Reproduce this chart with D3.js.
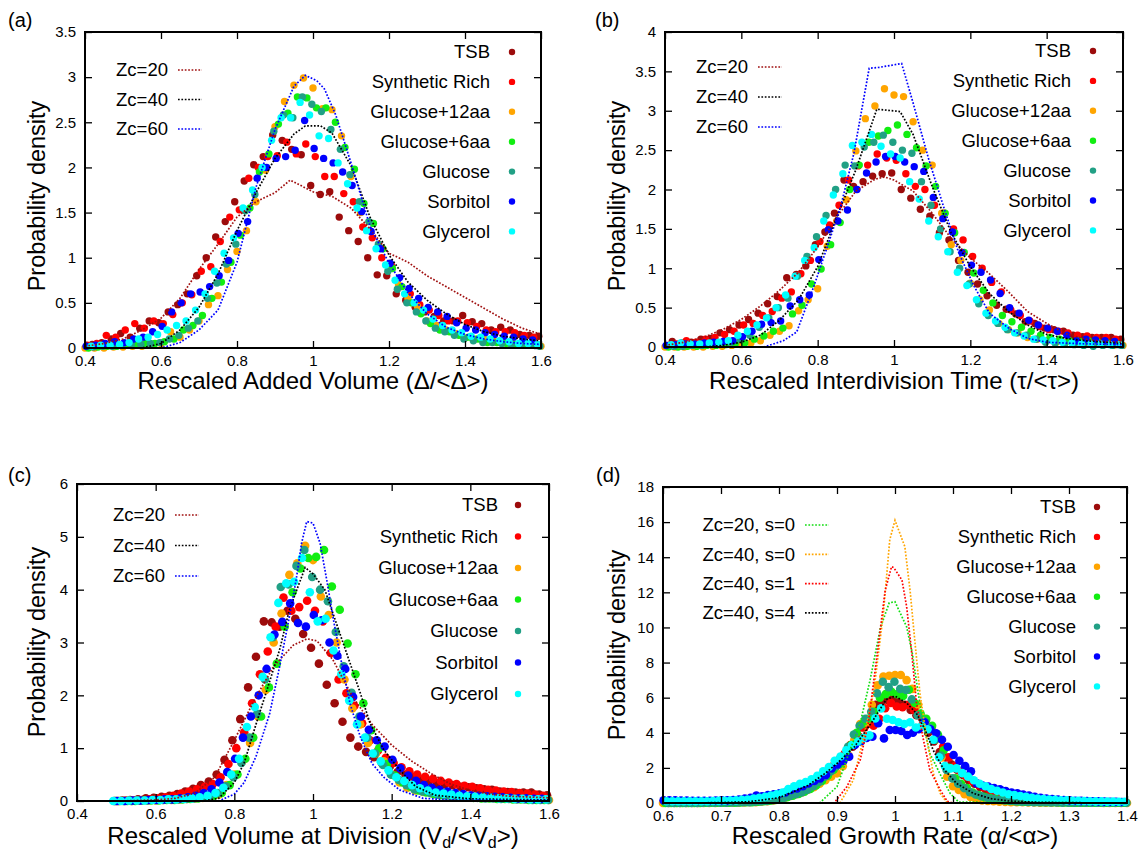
<!DOCTYPE html>
<html>
<head>
<meta charset="utf-8">
<script src="https://cdn.jsdelivr.net/npm/d3@7"></script>
<style>
  body { margin: 0; background: #fff; }
  svg { display: block; }
  text { font-family: "Liberation Sans", Arial, Helvetica, sans-serif; fill: #000; }
</style>
</head>
<body>
<svg id="fig" width="1144" height="857"></svg>
<script>
// ---- growth-condition series (shared by all four panels) ----
const seriesNames = ["TSB", "Synthetic Rich", "Glucose+12aa", "Glucose+6aa", "Glucose", "Sorbitol", "Glycerol"];
const seriesColors = ["#9c0b0b", "#ff0000", "#ffa500", "#11ee11", "#21a085", "#0000ff", "#00ffff"];

// ---- histogram bin centres ----
const binsAB = [0.4,0.425,0.45,0.475,0.5,0.525,0.55,0.575,0.6,0.625,0.65,0.675,0.7,0.725,0.75,0.775,0.8,0.825,0.85,0.875,0.9,0.925,0.95,0.975,1,1.025,1.05,1.075,1.1,1.125,1.15,1.175,1.2,1.225,1.25,1.275,1.3,1.325,1.35,1.375,1.4,1.425,1.45,1.475,1.5,1.525,1.55,1.575,1.6];
const binsC = [0.5,0.52,0.54,0.56,0.58,0.6,0.62,0.64,0.66,0.68,0.7,0.72,0.74,0.76,0.78,0.8,0.82,0.84,0.86,0.88,0.9,0.92,0.94,0.96,0.98,1,1.02,1.04,1.06,1.08,1.1,1.12,1.14,1.16,1.18,1.2,1.22,1.24,1.26,1.28,1.3,1.32,1.34,1.36,1.38,1.4,1.42,1.44,1.46,1.48,1.5,1.52,1.54,1.56,1.58,1.6];
const binsD = [0.6,0.61,0.62,0.63,0.64,0.65,0.66,0.67,0.68,0.69,0.7,0.71,0.72,0.73,0.74,0.75,0.76,0.77,0.78,0.79,0.8,0.81,0.82,0.83,0.84,0.85,0.86,0.87,0.88,0.89,0.9,0.91,0.92,0.93,0.94,0.95,0.96,0.97,0.98,0.99,1,1.01,1.02,1.03,1.04,1.05,1.06,1.07,1.08,1.09,1.1,1.11,1.12,1.13,1.14,1.15,1.16,1.17,1.18,1.19,1.2,1.21,1.22,1.23,1.24,1.25,1.26,1.27,1.28,1.29,1.3,1.31,1.32,1.33,1.34,1.35,1.36,1.37,1.38,1.39,1.4];

// per-condition offsets of the bin centres (each condition is rescaled by its own mean)
const shiftAB = [-0.006, 0.006, 0, 0.009, -0.003, 0.003, -0.009];
const shiftC = [-0.005, 0.005, 0, 0.008, -0.002, 0.002, -0.008];
const shiftD = [-0.003, 0.003, 0, 0.004, -0.001, 0.001, -0.004];

// ---- (a) added volume ----
const aTSB  = [0.02,0.04,0.06,0.1,0.16,0.12,0.22,0.3,0.28,0.4,0.48,0.6,0.8,1.0,1.23,1.4,1.62,1.85,2.03,2.12,2.36,2.3,2.2,2.14,1.8,1.7,1.73,1.45,1.3,1.18,1.0,0.81,0.8,0.6,0.53,0.45,0.4,0.35,0.3,0.3,0.36,0.29,0.27,0.2,0.23,0.2,0.15,0.14,0.13];
const aRich = [0.03,0.05,0.14,0.12,0.2,0.27,0.22,0.3,0.27,0.37,0.5,0.59,0.85,0.9,1.18,1.45,1.53,1.88,2.0,2.12,2.13,2.28,2.15,2.26,2.12,1.9,1.9,1.71,1.62,1.34,1.22,1.0,0.92,0.68,0.6,0.48,0.42,0.36,0.3,0.3,0.28,0.24,0.2,0.18,0.18,0.17,0.14,0.12,0.1];
const a12aa = [0,0,0,0.01,0.01,0.02,0.02,0.04,0.05,0.18,0.12,0.2,0.3,0.48,0.58,0.87,1.07,1.3,1.62,1.97,2.45,2.73,2.91,2.99,2.88,2.65,2.64,2.35,1.9,1.5,1.3,1.12,0.93,0.7,0.55,0.46,0.3,0.25,0.2,0.16,0.11,0.1,0.1,0.08,0.07,0.05,0.04,0.03,0.02];
const a6aa  = [0,0.01,0.02,0.02,0.03,0.04,0.05,0.05,0.07,0.1,0.2,0.25,0.36,0.55,0.73,0.95,1.25,1.55,1.95,2.15,2.48,2.6,2.78,2.77,2.66,2.66,2.5,2.22,1.98,1.6,1.38,1.1,0.88,0.68,0.5,0.38,0.27,0.2,0.18,0.14,0.12,0.1,0.06,0.06,0.05,0.04,0.04,0.03,0.02];
const aGlu  = [0.01,0.01,0.02,0.02,0.03,0.04,0.04,0.05,0.06,0.1,0.14,0.22,0.3,0.55,0.72,0.93,1.15,1.52,1.7,2.0,2.4,2.58,2.55,2.78,2.7,2.62,2.42,2.2,1.92,1.62,1.4,1.15,0.85,0.65,0.5,0.4,0.3,0.22,0.18,0.14,0.1,0.08,0.06,0.06,0.05,0.04,0.03,0.03,0.02];
const aSorb = [0.02,0.03,0.05,0.07,0.06,0.1,0.12,0.18,0.24,0.4,0.5,0.6,0.62,0.68,0.8,0.97,1.27,1.4,1.88,2.0,2.1,2.12,2.19,2.52,2.21,2.1,2.05,1.95,1.8,1.51,1.29,1.1,0.94,0.78,0.66,0.55,0.45,0.4,0.35,0.28,0.22,0.2,0.17,0.15,0.13,0.12,0.1,0.09,0.08];
const aGly  = [0.01,0.02,0.03,0.03,0.04,0.06,0.1,0.12,0.15,0.2,0.25,0.3,0.42,0.6,0.85,1.05,1.22,1.55,1.75,2.0,2.3,2.55,2.55,2.72,2.58,2.35,2.32,2.05,1.82,1.55,1.3,1.1,0.92,0.75,0.6,0.5,0.42,0.32,0.25,0.2,0.17,0.13,0.12,0.1,0.08,0.07,0.05,0.05,0.04];
const aZc20 = [[0.4,0.02],[0.45,0.05],[0.5,0.1],[0.55,0.2],[0.6,0.33],[0.65,0.55],[0.7,0.87],[0.75,1.15],[0.8,1.45],[0.85,1.62],[0.9,1.72],[0.94,1.86],[1.0,1.73],[1.05,1.68],[1.1,1.55],[1.15,1.32],[1.2,1.05],[1.25,0.95],[1.3,0.8],[1.35,0.68],[1.4,0.56],[1.45,0.44],[1.5,0.32],[1.55,0.22],[1.6,0.15]];
const aZc40 = [[0.4,0],[0.55,0],[0.6,0.05],[0.65,0.2],[0.7,0.45],[0.75,0.82],[0.8,1.3],[0.85,1.72],[0.9,2.1],[0.95,2.37],[0.98,2.46],[1.02,2.46],[1.05,2.38],[1.1,2.02],[1.15,1.45],[1.2,1.03],[1.25,0.73],[1.3,0.53],[1.35,0.38],[1.4,0.26],[1.45,0.18],[1.5,0.13],[1.55,0.1],[1.6,0.08]];
const aZc60 = [[0.4,0],[0.6,0],[0.65,0.06],[0.7,0.2],[0.75,0.42],[0.8,0.95],[0.85,1.78],[0.9,2.42],[0.95,2.9],[0.98,3.02],[1.01,2.96],[1.03,2.87],[1.06,2.58],[1.1,2.05],[1.15,1.35],[1.2,0.94],[1.25,0.61],[1.3,0.38],[1.35,0.23],[1.4,0.15],[1.45,0.1],[1.5,0.07],[1.55,0.05],[1.6,0.04]];

// ---- (b) interdivision time ----
const bTSB  = [0.02,0.07,0.05,0.06,0.1,0.11,0.18,0.22,0.28,0.35,0.43,0.55,0.64,0.88,0.92,1.03,1.3,1.46,1.7,2.12,2.04,2.1,2.17,2.2,2.21,2.0,1.89,1.75,1.66,1.45,1.36,1.1,0.95,0.8,0.65,0.53,0.48,0.42,0.32,0.3,0.24,0.22,0.2,0.15,0.13,0.12,0.12,0.12,0.1];
const bRich = [0.02,0.04,0.08,0.06,0.1,0.12,0.16,0.2,0.28,0.3,0.4,0.45,0.62,0.7,0.93,1.1,1.34,1.55,1.8,2.12,2.3,2.31,2.45,2.4,2.37,2.2,2.04,2.0,1.8,1.7,1.5,1.36,1.15,1.0,0.82,0.7,0.47,0.4,0.33,0.26,0.22,0.2,0.18,0.15,0.14,0.12,0.12,0.1,0.08];
const b12aa = [0,0,0,0,0,0.01,0.01,0.02,0.03,0.05,0.08,0.15,0.2,0.27,0.46,0.6,0.74,1.28,1.6,1.87,2.49,2.9,3.06,3.28,3.2,3.18,2.86,2.5,2.31,1.7,1.3,1.1,0.81,0.6,0.47,0.3,0.22,0.18,0.12,0.1,0.08,0.06,0.06,0.07,0.05,0.04,0.03,0.02,0.02];
const b6aa  = [0,0,0.01,0.01,0.02,0.02,0.03,0.04,0.05,0.1,0.14,0.2,0.24,0.42,0.53,0.8,0.99,1.3,1.58,2.0,2.31,2.6,2.68,2.75,2.82,2.7,2.53,2.3,2.04,1.7,1.45,1.2,0.94,0.72,0.56,0.4,0.32,0.25,0.2,0.15,0.12,0.1,0.08,0.08,0.08,0.06,0.05,0.04,0.03];
const bGlu  = [0,0.01,0.01,0.02,0.02,0.03,0.05,0.06,0.1,0.15,0.25,0.37,0.5,0.62,0.9,1.15,1.4,1.67,2.0,2.31,2.3,2.54,2.6,2.69,2.6,2.5,2.46,2.1,1.8,1.5,1.21,1.0,0.8,0.55,0.4,0.3,0.22,0.18,0.15,0.1,0.06,0.05,0.04,0.03,0.02,0.01,0.02,0.02,0.02];
const bSorb = [0.02,0.03,0.04,0.04,0.05,0.06,0.07,0.08,0.13,0.2,0.29,0.31,0.33,0.52,0.6,0.66,1.11,1.49,1.6,1.74,2.0,2.21,2.35,2.42,2.42,2.35,2.29,2.23,1.9,1.63,1.46,1.2,1.04,0.95,0.85,0.68,0.5,0.43,0.34,0.28,0.24,0.2,0.15,0.08,0.1,0.09,0.08,0.07,0.07];
const bGly  = [0.01,0.03,0.05,0.04,0.04,0.05,0.06,0.08,0.15,0.2,0.28,0.37,0.5,0.66,0.9,1.1,1.26,1.6,1.93,2.2,2.56,2.6,2.7,2.55,2.45,2.4,2.1,1.88,1.6,1.4,1.21,0.95,0.78,0.6,0.43,0.33,0.25,0.18,0.14,0.1,0.09,0.08,0.06,0.05,0.04,0.04,0.04,0.03,0.03];
const bZc20 = [[0.4,0.02],[0.45,0.06],[0.5,0.12],[0.55,0.22],[0.6,0.35],[0.65,0.52],[0.7,0.72],[0.75,0.95],[0.8,1.27],[0.85,1.65],[0.9,1.98],[0.95,2.13],[0.975,2.16],[1.0,2.12],[1.05,1.98],[1.1,1.7],[1.15,1.38],[1.2,1.13],[1.25,0.93],[1.3,0.7],[1.35,0.45],[1.4,0.3],[1.45,0.17],[1.5,0.1],[1.55,0.07],[1.6,0.06]];
const bZc40 = [[0.4,0],[0.5,0],[0.55,0.02],[0.6,0.06],[0.65,0.15],[0.7,0.34],[0.75,0.6],[0.8,1.02],[0.85,1.65],[0.9,2.25],[0.955,3.02],[1.016,2.99],[1.05,2.7],[1.1,2.04],[1.15,1.45],[1.2,1.02],[1.25,0.68],[1.3,0.45],[1.35,0.28],[1.4,0.16],[1.45,0.11],[1.5,0.08],[1.55,0.06],[1.6,0.04]];
const bZc60 = [[0.4,0],[0.66,0],[0.71,0.08],[0.745,0.19],[0.79,0.77],[0.825,1.27],[0.86,1.78],[0.895,2.46],[0.935,3.54],[0.96,3.55],[1.02,3.6],[1.05,3.1],[1.09,2.4],[1.13,1.78],[1.17,1.19],[1.21,0.77],[1.25,0.43],[1.3,0.24],[1.35,0.11],[1.4,0.06],[1.5,0.04],[1.6,0.03]];

// ---- (c) volume at division ----
const cTSB  = [0,0.01,0.02,0.03,0.05,0.06,0.08,0.1,0.13,0.18,0.23,0.3,0.37,0.5,0.78,1.15,1.55,2.15,2.73,3.4,3.38,3.3,3.6,3.45,3.16,2.9,2.6,2.2,1.85,1.5,1.2,1.03,0.93,0.83,0.72,0.65,0.55,0.5,0.46,0.4,0.38,0.33,0.32,0.3,0.27,0.26,0.24,0.22,0.21,0.18,0.17,0.16,0.16,0.16,0.12,0.11];
const cRich = [0,0.01,0.01,0.02,0.03,0.05,0.07,0.1,0.14,0.18,0.22,0.27,0.32,0.45,0.7,1.0,1.3,1.85,2.4,2.83,3.3,3.85,3.6,3.67,3.79,3.6,3.4,2.8,2.3,2.04,1.8,1.47,1.15,0.95,0.82,0.72,0.64,0.56,0.5,0.46,0.42,0.38,0.35,0.32,0.29,0.27,0.24,0.21,0.2,0.18,0.17,0.15,0.14,0.12,0.1,0.09];
const c12aa = [0,0,0,0.01,0.01,0.01,0.02,0.02,0.03,0.04,0.05,0.06,0.08,0.12,0.3,0.5,0.75,1.1,1.6,2.1,3.0,3.55,4.28,4.5,4.83,4.56,3.87,3.52,3.0,2.3,1.75,1.45,1.1,0.9,0.75,0.5,0.35,0.25,0.2,0.17,0.15,0.13,0.12,0.1,0.09,0.08,0.07,0.06,0.06,0.05,0.05,0.04,0.04,0.03,0.03,0.02];
const c6aa  = [0,0,0,0.01,0.01,0.01,0.02,0.02,0.03,0.04,0.05,0.07,0.1,0.15,0.3,0.5,0.8,1.2,1.6,2.15,2.6,3.3,3.95,4.4,4.6,4.62,4.75,4.06,3.62,2.98,2.4,1.85,1.34,1.0,0.7,0.48,0.35,0.27,0.2,0.16,0.13,0.11,0.1,0.08,0.07,0.06,0.05,0.05,0.04,0.04,0.03,0.03,0.02,0.02,0.02,0.02];
const cGlu  = [0,0,0,0.01,0.01,0.02,0.02,0.03,0.03,0.04,0.05,0.07,0.1,0.15,0.28,0.45,0.72,1.2,1.65,2.3,3.1,4.05,4.1,4.45,4.75,4.24,4.0,3.78,3.2,2.55,2.05,1.6,1.2,0.9,0.68,0.5,0.4,0.3,0.22,0.18,0.15,0.12,0.1,0.09,0.08,0.07,0.06,0.05,0.05,0.04,0.04,0.03,0.03,0.02,0.02,0.02];
const cSorb = [0,0,0.01,0.01,0.02,0.02,0.03,0.03,0.05,0.07,0.1,0.15,0.22,0.35,0.55,0.8,1.2,1.6,2.0,2.5,3.15,3.39,3.74,3.37,3.3,3.52,3.42,3.0,2.75,2.5,1.97,1.6,1.35,1.15,1.03,0.78,0.62,0.48,0.38,0.3,0.25,0.21,0.18,0.15,0.13,0.11,0.1,0.09,0.08,0.07,0.06,0.05,0.05,0.04,0.04,0.03];
const cGly  = [0,0,0.01,0.01,0.01,0.02,0.02,0.03,0.03,0.04,0.05,0.07,0.1,0.15,0.25,0.5,0.8,1.4,1.78,2.35,3.1,3.75,4.12,4.15,4.6,3.95,3.4,3.45,2.85,2.4,1.9,1.45,1.2,0.9,0.75,0.58,0.45,0.38,0.3,0.24,0.2,0.16,0.14,0.12,0.1,0.09,0.08,0.07,0.06,0.05,0.05,0.04,0.04,0.03,0.03,0.03];
const cZc20 = [[0.5,0],[0.6,0.02],[0.65,0.05],[0.7,0.15],[0.75,0.45],[0.8,1.15],[0.85,1.9],[0.9,2.55],[0.95,2.95],[0.985,3.07],[1.01,3.03],[1.05,2.68],[1.1,1.98],[1.15,1.45],[1.2,1.06],[1.25,0.76],[1.3,0.52],[1.35,0.32],[1.4,0.2],[1.45,0.13],[1.5,0.09],[1.6,0.06]];
const cZc40 = [[0.5,0],[0.72,0],[0.76,0.05],[0.8,0.35],[0.825,0.72],[0.855,1.45],[0.885,2.15],[0.915,2.86],[0.94,3.62],[0.965,4.12],[0.98,4.42],[1.0,4.3],[1.03,4.0],[1.06,3.35],[1.09,2.7],[1.12,2.05],[1.145,1.47],[1.18,0.97],[1.22,0.59],[1.26,0.28],[1.31,0.11],[1.4,0.04],[1.6,0.02]];
const cZc60 = [[0.5,0],[0.76,0],[0.8,0.13],[0.825,0.35],[0.855,0.84],[0.89,1.66],[0.915,2.54],[0.94,3.49],[0.957,4.18],[0.971,4.88],[0.984,5.29],[1.0,5.26],[1.018,4.88],[1.035,4.18],[1.052,3.43],[1.073,2.6],[1.094,1.85],[1.12,1.22],[1.15,0.71],[1.18,0.45],[1.22,0.21],[1.28,0.05],[1.35,0.02],[1.6,0.01]];

// ---- (d) growth rate ----
const dTSB  = [0.05,0.05,0.05,0.05,0.05,0.05,0.05,0.05,0.06,0.06,0.07,
  0.08,0.09,0.1,0.12,0.15,0.18,0.2,0.25,0.3,0.35,
  0.45,0.55,0.7,0.8,1.0,1.2,1.4,1.7,1.97,2.3,
  2.6,2.9,3.2,3.8,4.3,4.8,5.6,5.8,5.87,6.0,
  5.8,5.6,5.3,5.0,4.8,4.0,3.5,2.9,2.6,2.2,
  1.9,1.6,1.3,1.1,0.9,0.75,0.6,0.5,0.4,0.35,
  0.3,0.25,0.2,0.18,0.15,0.12,0.1,0.1,0.08,0.07,
  0.06,0.06,0.05,0.05,0.04,0.04,0.03,0.03,0.03,0.03];
const dRich = [0.05,0.05,0.05,0.05,0.05,0.05,0.06,0.06,0.07,0.07,0.08,
  0.1,0.1,0.12,0.15,0.18,0.2,0.25,0.3,0.38,0.45,
  0.55,0.65,0.8,0.95,1.1,1.3,1.5,1.8,2.1,2.45,
  2.8,3.3,3.8,4.3,4.5,4.4,4.8,5.4,5.7,5.5,
  5.45,5.6,5.3,5.0,4.7,4.3,3.87,3.2,2.6,2.1,
  1.8,1.5,1.25,1.05,0.9,0.75,0.62,0.5,0.42,0.35,
  0.3,0.25,0.2,0.17,0.14,0.12,0.1,0.09,0.08,0.07,
  0.06,0.05,0.05,0.04,0.04,0.03,0.03,0.03,0.03,0.02];
const d12aa = [0,0,0,0,0,0,0,0,0,0,0.01,
  0.01,0.02,0.02,0.03,0.04,0.05,0.07,0.1,0.15,0.2,
  0.3,0.4,0.5,0.6,0.75,0.9,1.1,1.3,1.5,1.69,
  2.1,2.7,3.6,4.5,4.6,5.6,6.7,7.2,7.25,7.29,
  7.29,7.0,6.5,5.6,4.8,4.2,3.6,2.6,1.5,0.95,
  0.74,0.5,0.35,0.2,0.15,0.12,0.1,0.08,0.06,0.05,
  0.04,0.04,0.03,0.03,0.02,0.02,0.02,0.02,0.01,0.01,
  0.01,0.01,0.01,0.01,0.01,0,0,0,0,0];
const d6aa  = [0,0,0,0,0,0,0,0.01,0.01,0.01,0.01,
  0.02,0.02,0.03,0.04,0.05,0.07,0.1,0.13,0.18,0.25,
  0.33,0.42,0.52,0.65,0.8,1.0,1.25,1.55,1.9,2.2,
  2.6,3.3,4.0,4.5,4.8,5.2,6.0,6.2,6.34,6.2,
  6.1,6.45,5.7,5.1,4.8,4.4,3.9,3.0,2.0,1.4,
  1.1,0.85,0.6,0.45,0.35,0.28,0.22,0.18,0.14,0.11,
  0.09,0.08,0.07,0.06,0.05,0.04,0.04,0.03,0.03,0.02,
  0.02,0.02,0.02,0.01,0.01,0.01,0.01,0.01,0.01,0.01];
const dGlu  = [0,0,0,0,0,0,0,0.01,0.01,0.01,0.02,
  0.02,0.03,0.03,0.04,0.05,0.07,0.09,0.12,0.16,0.22,
  0.3,0.4,0.5,0.6,0.75,0.95,1.2,1.5,1.8,2.1,
  2.5,3.2,3.9,4.4,4.8,5.2,6.25,6.91,6.6,6.91,
  6.5,6.44,5.9,5.0,4.7,4.3,3.6,2.7,1.88,1.4,
  1.1,0.85,0.62,0.48,0.38,0.3,0.24,0.18,0.14,0.11,
  0.09,0.07,0.06,0.05,0.04,0.04,0.03,0.03,0.02,0.02,
  0.02,0.02,0.01,0.01,0.01,0.01,0.01,0.01,0.01,0.01];
const dSorb = [0.15,0.15,0.15,0.14,0.14,0.13,0.13,0.13,0.13,0.14,0.15,
  0.15,0.17,0.2,0.25,0.3,0.42,0.38,0.45,0.5,0.55,
  0.6,0.75,0.83,0.95,1.12,1.25,1.4,1.6,1.97,2.2,
  2.4,2.64,3.3,3.5,3.7,3.78,4.54,3.68,4.16,4.16,
  4.1,3.87,4.0,4.2,4.6,4.2,3.97,3.6,3.2,2.73,
  2.4,2.1,1.8,1.12,1.0,0.93,0.85,0.78,0.68,0.6,
  0.55,0.48,0.42,0.36,0.3,0.26,0.22,0.19,0.17,0.15,
  0.13,0.12,0.11,0.1,0.09,0.08,0.07,0.07,0.06,0.06];
const dGly  = [0.1,0.1,0.1,0.1,0.1,0.1,0.1,0.1,0.1,0.11,0.12,
  0.13,0.14,0.15,0.18,0.2,0.25,0.3,0.35,0.42,0.5,
  0.6,0.8,0.95,1.1,1.2,1.35,1.55,1.8,2.05,2.4,
  2.65,3.0,3.3,3.5,3.7,3.85,4.82,5.39,4.8,4.73,
  4.6,4.5,4.6,4.3,4.4,4.2,3.6,2.6,2.1,1.97,
  1.97,1.7,1.5,1.3,1.1,0.95,0.8,0.7,0.6,0.5,
  0.45,0.4,0.35,0.3,0.25,0.22,0.2,0.18,0.16,0.15,
  0.13,0.12,0.11,0.1,0.09,0.09,0.08,0.08,0.07,0.07];
const dZc20s0 = [[0.6,0],[0.87,0],[0.9,0.93],[0.92,2.8],[0.94,4.54],[0.957,7.0],[0.975,10.0],[0.99,11.4],[1.0,11.46],[1.02,10.04],[1.03,8.5],[1.04,6.25],[1.05,4.35],[1.06,2.83],[1.08,1.5],[1.095,0.55],[1.11,0.05],[1.4,0]];
const dZc40s0 = [[0.6,0],[0.905,0],[0.928,1.3],[0.945,3.6],[0.963,6.25],[0.98,10.8],[0.991,15.0],[1.0,16.1],[1.017,14.6],[1.026,12.1],[1.034,9.3],[1.043,6.25],[1.055,3.6],[1.066,1.7],[1.078,0.55],[1.09,0],[1.4,0]];
const dZc40s1 = [[0.6,0],[0.895,0],[0.917,0.93],[0.94,2.45],[0.954,4.54],[0.968,8.14],[0.983,12.1],[0.994,13.46],[0.998,13.4],[1.012,12.7],[1.02,11.2],[1.029,8.5],[1.037,5.7],[1.049,3.6],[1.06,1.9],[1.078,0.74],[1.09,0.1],[1.1,0],[1.4,0]];
const dZc40s4 = [[0.6,0],[0.7,0.02],[0.75,0.08],[0.8,0.3],[0.85,1.0],[0.88,1.7],[0.9,2.25],[0.93,3.2],[0.96,4.6],[0.985,5.9],[1.0,6.09],[1.02,5.7],[1.037,5.1],[1.052,4.16],[1.066,3.0],[1.083,1.97],[1.106,1.12],[1.135,0.55],[1.165,0.25],[1.2,0.1],[1.25,0.04],[1.3,0.02],[1.4,0]];

// ---- tick values ----
const xTicksAC = [0.4, 0.6, 0.8, 1, 1.2, 1.4, 1.6];
const xTicksD = [0.6, 0.7, 0.8, 0.9, 1, 1.1, 1.2, 1.3, 1.4];
const yTicksA = [0, 0.5, 1, 1.5, 2, 2.5, 3, 3.5];
const yTicksB = [0, 0.5, 1, 1.5, 2, 2.5, 3, 3.5, 4];
const yTicksC = [0, 1, 2, 3, 4, 5, 6];
const yTicksD = [0, 2, 4, 6, 8, 10, 12, 14, 16, 18];

const curveLabelsABC = ["Zc=20", "Zc=40", "Zc=60"];
const curveColorsABC = ["#a01010", "#000000", "#0000ff"];
const curveLabelsD = ["Zc=20, s=0", "Zc=40, s=0", "Zc=40, s=1", "Zc=40, s=4"];
const curveColorsD = ["#11dd11", "#ffa500", "#ff0000", "#000000"];

const panels = [
  { tag: "(a)", tagPos: [8, 27],
    box: { l: 85, r: 541, t: 32, b: 348 }, xDom: [0.4, 1.6], yDom: [0, 3.5],
    xTicks: xTicksAC, yTicks: yTicksA,
    bins: binsAB, shift: shiftAB, series: [aTSB, aRich, a12aa, a6aa, aGlu, aSorb, aGly], r: 3.7,
    curves: [aZc20, aZc40, aZc60], curveLabels: curveLabelsABC, curveColors: curveColorsABC,
    curveKey: { x: 168, y: 70, dy: 29.5, lineX: 178 },
    key: { x: 490, y: 52, dy: 29.9, dotX: 512 },
    xTitle: [["Rescaled Added Volume (Δ/<Δ>)"]], xTitlePos: [313, 389], yTitlePos: [37, 196] },
  { tag: "(b)", tagPos: [595, 27],
    box: { l: 665, r: 1123, t: 32, b: 347 }, xDom: [0.4, 1.6], yDom: [0, 4],
    xTicks: xTicksAC, yTicks: yTicksB,
    bins: binsAB, shift: shiftAB, series: [bTSB, bRich, b12aa, b6aa, bGlu, bSorb, bGly], r: 3.7,
    curves: [bZc20, bZc40, bZc60], curveLabels: curveLabelsABC, curveColors: curveColorsABC,
    curveKey: { x: 748, y: 67, dy: 30, lineX: 758 },
    key: { x: 1071, y: 51, dy: 29.9, dotX: 1093 },
    xTitle: [["Rescaled Interdivision Time (τ/<τ>)"]], xTitlePos: [894, 389], yTitlePos: [617, 196] },
  { tag: "(c)", tagPos: [8, 482],
    box: { l: 77, r: 549, t: 484, b: 801 }, xDom: [0.4, 1.6], yDom: [0, 6],
    xTicks: xTicksAC, yTicks: yTicksC,
    bins: binsC, shift: shiftC, series: [cTSB, cRich, c12aa, c6aa, cGlu, cSorb, cGly], r: 4.3,
    curves: [cZc20, cZc40, cZc60], curveLabels: curveLabelsABC, curveColors: curveColorsABC,
    curveKey: { x: 165, y: 515, dy: 30.5, lineX: 175 },
    key: { x: 498, y: 505, dy: 31.5, dotX: 518 },
    xTitle: [["Rescaled Volume at Division (V"], ["d", "sub"], ["/<V"], ["d", "sub"], [">)"]],
    xTitlePos: [313, 844], yTitlePos: [37, 642] },
  { tag: "(d)", tagPos: [596, 482],
    box: { l: 663, r: 1127, t: 487, b: 803 }, xDom: [0.6, 1.4], yDom: [0, 18],
    xTicks: xTicksD, yTicks: yTicksD,
    bins: binsD, shift: shiftD, series: [dTSB, dRich, d12aa, d6aa, dGlu, dSorb, dGly], r: 4.3,
    curves: [dZc20s0, dZc40s0, dZc40s1, dZc40s4], curveLabels: curveLabelsD, curveColors: curveColorsD,
    curveKey: { x: 795, y: 525, dy: 29.3, lineX: 805 },
    key: { x: 1076, y: 507, dy: 29.9, dotX: 1097 },
    xTitle: [["Rescaled Growth Rate (α/<α>)"]], xTitlePos: [895, 844], yTitlePos: [617, 645] }
];

const fig = d3.select("#fig");
const FONT = '"Liberation Sans", Arial, Helvetica, sans-serif';

function styleAxis(g) {
  g.select(".domain").remove();
  g.selectAll(".tick line").attr("stroke", "#000").attr("stroke-width", 1.3);
  g.selectAll(".tick text").attr("font-family", FONT).attr("font-size", 15).attr("fill", "#000");
}

function drawPanel(p) {
  const g = fig.append("g");
  const x = d3.scaleLinear().domain(p.xDom).range([p.box.l, p.box.r]);
  const y = d3.scaleLinear().domain(p.yDom).range([p.box.b, p.box.t]);

  // measured histograms, one colour per growth condition
  p.series.forEach((vals, i) => {
    const pts = vals.map((v, k) => [p.bins[k] + p.shift[i], v])
      .filter(d => d[0] >= p.xDom[0] && d[0] <= p.xDom[1]);
    g.append("g").selectAll("circle").data(pts).join("circle")
      .attr("cx", d => x(d[0])).attr("cy", d => y(d[1]))
      .attr("r", p.r).attr("fill", seriesColors[i]);
  });

  // model predictions as dotted curves
  const line = d3.line().x(d => x(d[0])).y(d => y(d[1]));
  p.curves.forEach((c, i) => {
    g.append("path").datum(c).attr("d", line)
      .attr("fill", "none").attr("stroke", p.curveColors[i])
      .attr("stroke-width", 1.7).attr("stroke-dasharray", "1.7,1.7");
  });

  // axes: ticks pointing inward on all four sides
  g.append("g").attr("transform", `translate(0,${p.box.b})`)
    .call(d3.axisBottom(x).tickValues(p.xTicks).tickSizeInner(-7).tickSizeOuter(0).tickPadding(7).tickFormat(d3.format("")))
    .call(styleAxis);
  g.append("g").attr("transform", `translate(0,${p.box.t})`)
    .call(d3.axisTop(x).tickValues(p.xTicks).tickSizeInner(-7).tickSizeOuter(0).tickFormat(""))
    .call(styleAxis);
  g.append("g").attr("transform", `translate(${p.box.l},0)`)
    .call(d3.axisLeft(y).tickValues(p.yTicks).tickSizeInner(-7).tickSizeOuter(0).tickPadding(9).tickFormat(d3.format("")))
    .call(styleAxis);
  g.append("g").attr("transform", `translate(${p.box.r},0)`)
    .call(d3.axisRight(y).tickValues(p.yTicks).tickSizeInner(-7).tickSizeOuter(0).tickFormat(""))
    .call(styleAxis);

  g.append("rect")
    .attr("x", p.box.l).attr("y", p.box.t)
    .attr("width", p.box.r - p.box.l).attr("height", p.box.b - p.box.t)
    .attr("fill", "none").attr("stroke", "#000").attr("stroke-width", 2);

  // key for the model curves (upper left)
  p.curveLabels.forEach((lab, i) => {
    const cy = p.curveKey.y + i * p.curveKey.dy;
    g.append("text").attr("x", p.curveKey.x).attr("y", cy).attr("dy", "0.35em")
      .attr("text-anchor", "end").attr("font-size", 18.5).text(lab);
    g.append("line").attr("x1", p.curveKey.lineX).attr("x2", p.curveKey.lineX + 24)
      .attr("y1", cy).attr("y2", cy)
      .attr("stroke", p.curveColors[i]).attr("stroke-width", 1.7).attr("stroke-dasharray", "1.7,1.7");
  });

  // key for the growth conditions (upper right)
  seriesNames.forEach((name, i) => {
    const cy = p.key.y + i * p.key.dy;
    g.append("text").attr("x", p.key.x).attr("y", cy).attr("dy", "0.35em")
      .attr("text-anchor", "end").attr("font-size", 18.5).text(name);
    g.append("circle").attr("cx", p.key.dotX).attr("cy", cy).attr("r", 3.2).attr("fill", seriesColors[i]);
  });

  // axis titles
  const xt = g.append("text").attr("x", p.xTitlePos[0]).attr("y", p.xTitlePos[1])
    .attr("text-anchor", "middle").attr("font-size", 24);
  p.xTitle.forEach(part => {
    const ts = xt.append("tspan").text(part[0]);
    if (part[1] === "sub") ts.attr("font-size", 16).attr("baseline-shift", "-25%");
  });
  g.append("text")
    .attr("transform", `translate(${p.yTitlePos[0]},${p.yTitlePos[1]}) rotate(-90)`)
    .attr("text-anchor", "middle").attr("dy", "0.35em").attr("font-size", 23.5)
    .text("Probability density");

  // panel tag
  g.append("text").attr("x", p.tagPos[0]).attr("y", p.tagPos[1]).attr("font-size", 20).text(p.tag);
}

panels.forEach(drawPanel);
</script>
</body>
</html>
